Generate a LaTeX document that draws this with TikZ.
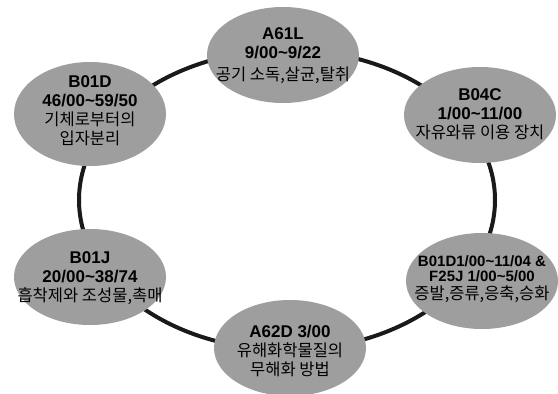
\documentclass[tikz,border=0pt]{standalone}
\usepackage{fontspec}
\setmainfont{Liberation Sans}
\newfontfamily\kr{Noto Sans CJK KR}
\usetikzlibrary{shapes.geometric}
\definecolor{ringline}{HTML}{1A1A1A}
\definecolor{bubble}{HTML}{9E9E9E}
\tikzset{
  bubblenode/.style={ellipse, fill=bubble, draw=none, inner sep=0pt,
    minimum width=152pt, minimum height=96pt},
  bubbletext/.style={align=center, inner sep=0pt,
    font=\fontsize{17}{19}\selectfont},
  ring/.style={draw=ringline, line width=4pt},
}
\newcommand{\code}[1]{\textbf{#1}}
\newcommand{\desc}[1]{{\kr\fontsize{16.5}{19}\selectfont #1}}
\begin{document}
\begin{tikzpicture}[x=1pt,y=-1pt]
  \useasboundingbox (0,0) rectangle (558,394);
  \fill[white] (0,0) rectangle (558,394);
  % the ring that links the six fields
  \coordinate (c) at (287,200);
  \draw[ring] (c) ellipse [x radius=208, y radius=150];
  % the six classification fields: gray bubbles
  \node[bubblenode] (a61l) at (283,55) {};
  \node[bubblenode] (b04c) at (480,115) {};
  \node[bubblenode, minimum height=104pt] (b01d) at (90,114) {};
  \node[bubblenode] (b01j) at (90,277) {};
  \node[bubblenode] (f25j) at (482,281) {};
  \node[bubblenode] (a62d) at (290,348) {};
  % their labels
  \node[bubbletext] (a61lt) at ([yshift=-1pt]a61l.center)
    {\code{A61L}\\\code{9/00\textasciitilde 9/22}\\[3pt]\desc{공기 소독,살균,탈취}};
  \node[bubbletext] (b04ct) at ([yshift=1pt]b04c.center)
    {\code{B04C}\\\code{1/00\textasciitilde 11/00}\\\desc{자유와류 이용 장치}};
  \node[bubbletext] (b01dt) at ([yshift=3pt]b01d.center)
    {\code{B01D}\\\code{46/00\textasciitilde 59/50}\\\desc{기체로부터의}\\\desc{입자분리}};
  \node[bubbletext] (b01jt) at ([yshift=-1pt]b01j.center)
    {\code{B01J}\\\code{20/00\textasciitilde 38/74}\\\desc{흡착제와 조성물,촉매}};
  \node[bubbletext, font=\fontsize{15}{15}\selectfont] (f25jt) at ([yshift=2pt]f25j.center)
    {\code{B01D1/00\textasciitilde 11/04 \&}\\\code{F25J 1/00\textasciitilde 5/00}\\[3pt]\desc{증발,증류,응축,승화}};
  \node[bubbletext] (a62dt) at ([yshift=-3pt]a62d.center)
    {\code{A62D 3/00}\\\desc{유해화학물질의}\\\desc{무해화 방법}};
\end{tikzpicture}
\end{document}
